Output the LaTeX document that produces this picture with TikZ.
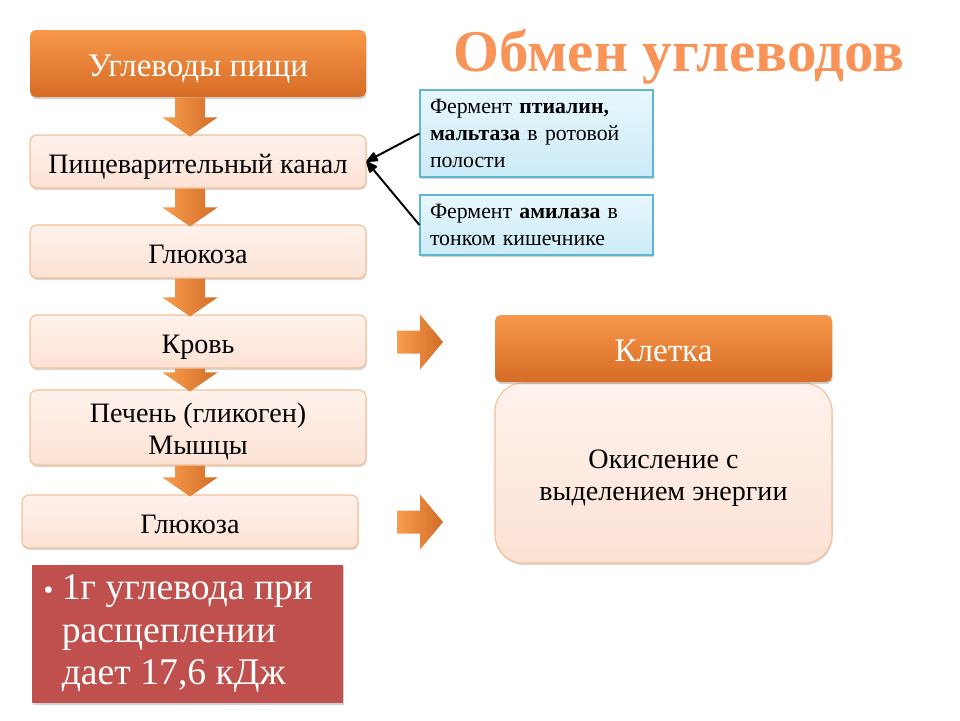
\documentclass[tikz,border=0pt]{standalone}
\usepackage{fontspec}
\setmainfont{Liberation Serif}
\usepackage{xcolor}
\usepackage{tikz}
\usetikzlibrary{positioning}
\usetikzlibrary{arrows.meta}
\usetikzlibrary{calc}
\usetikzlibrary{shadows}

\definecolor{orangeTop}{RGB}{248,152,74}
\definecolor{orangeBottom}{RGB}{214,108,38}
\definecolor{peachTop}{RGB}{254,242,236}
\definecolor{peachBottom}{RGB}{252,226,212}
\definecolor{peachLine}{RGB}{246,192,152}
\definecolor{blueTop}{RGB}{232,247,253}
\definecolor{blueBottom}{RGB}{203,235,248}
\definecolor{blueLine}{RGB}{95,182,206}
\definecolor{brickRed}{RGB}{192,80,77}
\definecolor{titleOrange}{RGB}{248,148,88}
\definecolor{arrowLight}{RGB}{248,158,78}
\definecolor{arrowDark}{RGB}{210,108,40}

% block arrow pointing down, from #1 to #2
\newcommand{\arrowDown}[2]{%
  \path[flowArrow] let \p1 = (#1), \p2 = (#2) in
    (\x1-0.75*\oneUnit,\y1) -- (\x1+0.75*\oneUnit,\y1) -- (\x1+0.75*\oneUnit,\y2+0.85*\oneUnit)
    -- (\x1+1.375*\oneUnit,\y2+0.85*\oneUnit) -- (\x1,\y2-0.1*\oneUnit) -- (\x1-1.375*\oneUnit,\y2+0.85*\oneUnit)
    -- (\x1-0.75*\oneUnit,\y2+0.85*\oneUnit) -- cycle;}
% block arrow pointing right, tail at #1
\newcommand{\arrowRight}[1]{%
  \path[flowArrow] let \p1 = (#1) in
    (\x1,\y1+0.575*\oneUnit) -- (\x1+1.15*\oneUnit,\y1+0.575*\oneUnit) -- (\x1+1.15*\oneUnit,\y1+1.375*\oneUnit)
    -- (\x1+2.3*\oneUnit,\y1) -- (\x1+1.15*\oneUnit,\y1-1.375*\oneUnit) -- (\x1+1.15*\oneUnit,\y1-0.575*\oneUnit)
    -- (\x1,\y1-0.575*\oneUnit) -- cycle;}

\begin{document}
\begin{tikzpicture}[
            >={Stealth[inset=0pt,length=9pt,angle'=45,round]},
        headBox/.style = { rectangle, rounded corners=4pt, top color = orangeTop, bottom color = orangeBottom, text = white, minimum width = 16.8*\oneUnit, minimum height = 3.35*\oneUnit, text height = 18pt, text depth = 0pt, font = \fontsize{23.5pt}{28pt}\selectfont, drop shadow = {shadow xshift=0.5pt, shadow yshift=-1.5pt, opacity=0.35} },
        stepBox/.style = { rectangle, rounded corners=5pt, top color = peachTop, bottom color = peachBottom, draw = peachLine, line width=0.8pt, text = black, minimum width = 16.8*\oneUnit, minimum height = 2.65*\oneUnit, text height = 16.8pt, text depth = 0pt, align = center, font = \fontsize{20pt}{22.5pt}\selectfont, drop shadow = {shadow xshift=0.5pt, shadow yshift=-1.5pt, opacity=0.3} },
        noteBox/.style = { rectangle, top color = blueTop, bottom color = blueBottom, draw = blueLine, line width=0.8pt, text = black, text width = 10.65*\oneUnit, inner xsep = 0.5*\oneUnit, align = left, font = \fontsize{15.5pt}{19pt}\selectfont, drop shadow = {shadow xshift=1pt, shadow yshift=-1.5pt, opacity=0.35} },
        factBox/.style = { rectangle, fill = brickRed, text = white, minimum width = 15.55*\oneUnit, minimum height = 6.9*\oneUnit, align = left, font = \fontsize{26.8pt}{30.2pt}\selectfont, drop shadow = {shadow xshift=1pt, shadow yshift=-1.5pt, opacity=0.35} },
        titleText/.style = { font = \fontsize{42pt}{48pt}\selectfont\bfseries, text = titleOrange, inner sep=0pt },
        flowArrow/.style = { left color = arrowLight, right color = arrowDark },
        noteArrow/.style = { line width=1.4pt, black },
                ]
        \def\oneUnit{0.5cm}

        \path[fill=white] (0,0) rectangle (48*\oneUnit,-36*\oneUnit);
        \useasboundingbox (0,0) rectangle (48*\oneUnit,-36*\oneUnit);

        \node[titleText] (title) at (33.95*\oneUnit,-2.85*\oneUnit) {Обмен углеводов};

        % main chain
        \node[headBox] (food) at (9.9*\oneUnit,-3.175*\oneUnit) {Углеводы пищи};
        \node[stepBox] (canal) at (9.9*\oneUnit,-8.075*\oneUnit) {Пищеварительный канал};
        \node[stepBox] (glucose) at (9.9*\oneUnit,-12.575*\oneUnit) {Глюкоза};
        \node[stepBox] (blood) at (9.9*\oneUnit,-17.075*\oneUnit) {Кровь};
        \node[stepBox, minimum height = 3.75*\oneUnit, text height = 38pt] (liver) at (9.9*\oneUnit,-21.375*\oneUnit) {Печень (гликоген)\\Мышцы};
        \node[stepBox] (glucoseTwo) at (9.5*\oneUnit,-26.075*\oneUnit) {Глюкоза};

        % cell
        \node[stepBox, rounded corners=20pt, minimum width = 16.85*\oneUnit, minimum height = 9*\oneUnit, text height = 38.4pt] (oxidation) at (33.175*\oneUnit,-23.65*\oneUnit) {Окисление с\\выделением энергии};
        \node[headBox, minimum width = 16.85*\oneUnit] (cell) at (33.175*\oneUnit,-17.425*\oneUnit) {Клетка};

        % enzymes
        \node[noteBox, minimum height = 4.35*\oneUnit] (ptyalin) at (26.825*\oneUnit,-6.675*\oneUnit) {Фермент \textbf{птиалин,}\\\textbf{мальтаза} в ротовой\\полости};
        \node[noteBox, minimum height = 3*\oneUnit] (amylase) at (26.825*\oneUnit,-11.25*\oneUnit) {Фермент \textbf{амилаза} в\\тонком кишечнике};

        \node[factBox] (fact) at (9.375*\oneUnit,-31.7*\oneUnit) {\llap{\fontsize{20pt}{20pt}\selectfont\textbullet\hspace{6pt}}1г углевода при\\расщеплении\\дает 17,6 кДж};

        \coordinate (arrowAxis) at (9.5*\oneUnit,0);
        \coordinate (bloodOut) at (19.85*\oneUnit,-17.1*\oneUnit);
        \coordinate (glucoseOut) at (19.85*\oneUnit,-26.1*\oneUnit);

        \arrowDown{arrowAxis |- food.south}{arrowAxis |- canal.north}
        \arrowDown{arrowAxis |- canal.south}{arrowAxis |- glucose.north}
        \arrowDown{arrowAxis |- glucose.south}{arrowAxis |- blood.north}
        \arrowDown{arrowAxis |- blood.south}{arrowAxis |- liver.north}
        \arrowDown{arrowAxis |- liver.south}{arrowAxis |- glucoseTwo.north}

        \arrowRight{bloodOut}
        \arrowRight{glucoseOut}

        \draw [->, noteArrow] (ptyalin.west) -- (canal.east);
        \draw [->, noteArrow] (amylase.west) -- (canal.east);
        \end{tikzpicture}
\end{document}
